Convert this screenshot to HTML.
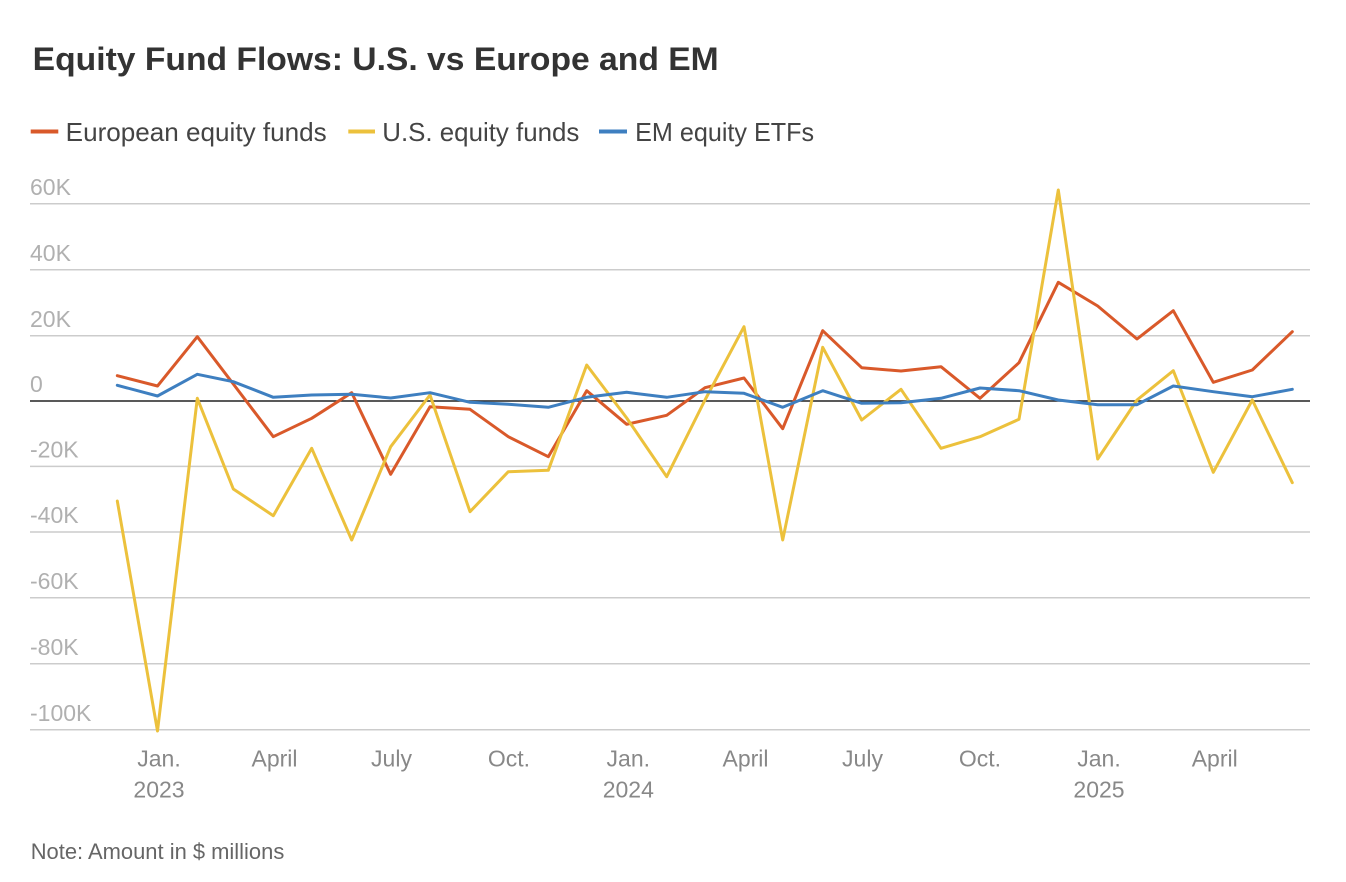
<!DOCTYPE html>
<html>
<head>
<meta charset="utf-8">
<style>
  html, body { margin: 0; padding: 0; background: #ffffff; }
  svg { display: block; }
  text { font-family: "Liberation Sans", "DejaVu Sans", sans-serif; }
</style>
</head>
<body>
<svg width="1346" height="882" viewBox="0 0 1346 882" xmlns="http://www.w3.org/2000/svg">
  <rect x="0" y="0" width="1346" height="882" fill="#ffffff"/>

  <!-- Title -->
  <text x="32.7" y="70" font-size="32" font-weight="bold" fill="#333333" textLength="686" lengthAdjust="spacingAndGlyphs">Equity Fund Flows: U.S. vs Europe and EM</text>

  <!-- Legend -->
  <line x1="30.7" y1="131.5" x2="58.3" y2="131.5" stroke="#d9592a" stroke-width="4"/>
  <text x="65.7" y="141" font-size="26" fill="#444444" textLength="261" lengthAdjust="spacingAndGlyphs">European equity funds</text>
  <line x1="348.3" y1="131.5" x2="375" y2="131.5" stroke="#ecc13c" stroke-width="4"/>
  <text x="382.3" y="141" font-size="26" fill="#444444" textLength="197" lengthAdjust="spacingAndGlyphs">U.S. equity funds</text>
  <line x1="599" y1="131.5" x2="627" y2="131.5" stroke="#3e7fc0" stroke-width="4"/>
  <text x="635.1" y="141" font-size="26" fill="#444444" textLength="179" lengthAdjust="spacingAndGlyphs">EM equity ETFs</text>

  <!-- Gridlines -->
  <g stroke="#cccccc" stroke-width="1.5">
    <line x1="30" y1="203.7" x2="1310" y2="203.7"/>
    <line x1="30" y1="269.7" x2="1310" y2="269.7"/>
    <line x1="30" y1="335.7" x2="1310" y2="335.7"/>
    <line x1="30" y1="466.4" x2="1310" y2="466.4"/>
    <line x1="30" y1="532" x2="1310" y2="532"/>
    <line x1="30" y1="597.8" x2="1310" y2="597.8"/>
    <line x1="30" y1="663.7" x2="1310" y2="663.7"/>
    <line x1="30" y1="729.8" x2="1310" y2="729.8"/>
  </g>

  <!-- Y labels -->
  <g font-size="23" fill="#b0b0b0">
    <text x="30" y="195">60K</text>
    <text x="30" y="261">40K</text>
    <text x="30" y="327">20K</text>
    <text x="30" y="392">0</text>
    <text x="30" y="457.5">-20K</text>
    <text x="30" y="523">-40K</text>
    <text x="30" y="589">-60K</text>
    <text x="30" y="655">-80K</text>
    <text x="30" y="721">-100K</text>
  </g>

  <!-- Zero line -->
  <line x1="30" y1="401" x2="1310" y2="401" stroke="#222222" stroke-width="1.6"/>

  <!-- Series -->
  <g fill="none" stroke-width="3" stroke-linejoin="round" stroke-linecap="round">
    <polyline stroke="#d9592a" points="117.3,375.7 157.5,386 197.3,336.7 233.3,384 273.3,436.7 311.7,418.3 351.7,392.7 390.7,474.3 430,406.7 470,409.3 508.3,436.7 548.3,456.7 586.7,390.7 626.7,424.3 666.7,415.3 705,387.7 744,378 782.7,428.7 822.7,330.7 861.7,367.7 901,371 941,366.7 980,398.3 1019,362.7 1058.3,282.3 1097.7,306 1137,339 1173.3,310.7 1213.3,382.3 1252.3,370 1292.3,331.7"/>
    <polyline stroke="#ecc13c" points="117.3,501 157.5,731 197.3,398.3 233.3,489 273.3,515.7 311.7,448.3 351.7,540 390.7,446.7 430,395 470,511.7 508.3,471.7 548.3,470.3 586.7,365 626.7,418 666.7,476.7 705,400 744,326.7 782.7,540 822.7,347.3 861.7,420 901,389.3 941,448.3 980,436.7 1019,419.3 1058.3,190 1097.7,459 1137,400 1173.3,370.7 1213.3,472.3 1252.3,400 1292.3,482.7"/>
    <polyline stroke="#3e7fc0" points="117.3,385.3 157.5,396 197.3,374.3 233.3,381.7 273.3,397.3 311.7,395 351.7,394.3 390.7,398 430,392.7 470,402.3 508.3,404.3 548.3,407.3 586.7,397.3 626.7,392.3 666.7,397.3 705,391.7 744,393.3 782.7,407.3 822.7,390.7 861.7,403.3 901,402.7 941,398.3 980,388 1019,390.7 1058.3,400 1097.7,404.7 1137,404.7 1173.3,386 1213.3,391.7 1252.3,396.7 1292.3,389.3"/>
  </g>

  <!-- X labels -->
  <g font-size="23" fill="#888888" text-anchor="middle">
    <text x="159" y="766.5">Jan.</text>
    <text x="159" y="797.5">2023</text>
    <text x="274.5" y="766.5">April</text>
    <text x="391.5" y="766.5">July</text>
    <text x="509" y="766.5">Oct.</text>
    <text x="628.3" y="766.5">Jan.</text>
    <text x="628.3" y="797.5">2024</text>
    <text x="745.5" y="766.5">April</text>
    <text x="862.5" y="766.5">July</text>
    <text x="980" y="766.5">Oct.</text>
    <text x="1099" y="766.5">Jan.</text>
    <text x="1099" y="797.5">2025</text>
    <text x="1214.7" y="766.5">April</text>
  </g>

  <!-- Note -->
  <text x="30.7" y="859" font-size="22" fill="#666666" textLength="253.6" lengthAdjust="spacingAndGlyphs">Note: Amount in $ millions</text>
</svg>
</body>
</html>
